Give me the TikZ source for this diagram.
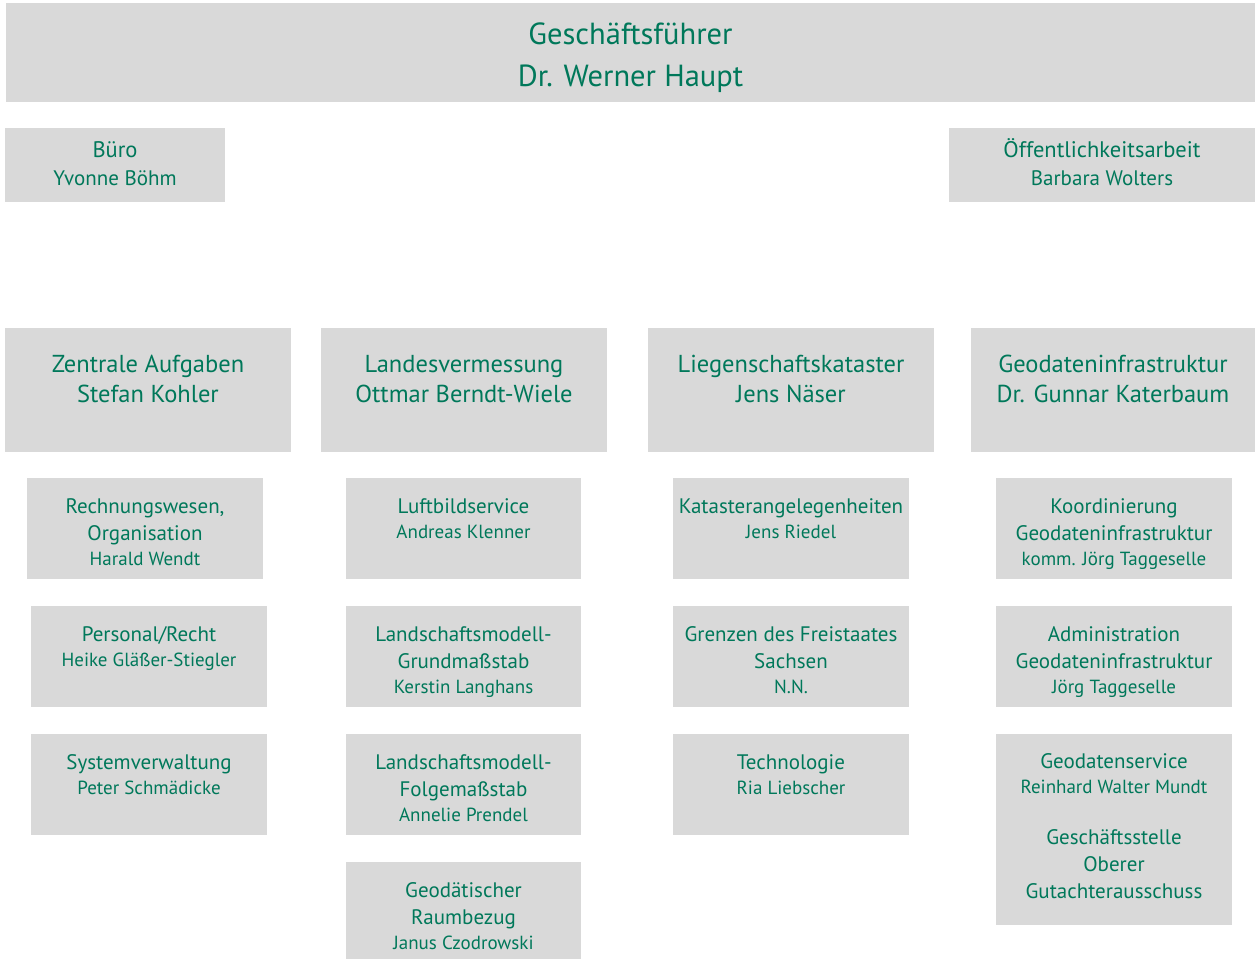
\documentclass[tikz,border=0pt]{standalone}
\usepackage{fontspec}
\setmainfont{PT Sans}
\usetikzlibrary{positioning}
\definecolor{boxgray}{HTML}{D9D9D9}
\definecolor{sbgreen}{HTML}{00785A}
\newcommand\topfont{\fontsize{30.5}{42}\selectfont}
\newcommand\headfont{\fontsize{24.5}{30}\selectfont}
\newcommand\stafffont{\fontsize{22.5}{28}\selectfont}
\newcommand\staffname{\fontsize{21}{28}\selectfont}
\newcommand\subfont{\fontsize{21}{27}\selectfont}
\newcommand\namefont{\fontsize{19}{25}\selectfont}
\tikzset{%
  unit/.style={fill=boxgray,anchor=north west,inner sep=0pt,outer sep=0pt},
  unittext/.style={text=sbgreen,align=center,inner sep=0pt,anchor=north},
  subbox/.style={unit,minimum width=236,minimum height=101},
  headbox/.style={unit,minimum width=286,minimum height=124},
}
\begin{document}
\begin{tikzpicture}[x=1pt,y=-1pt]
  \useasboundingbox (0,0) rectangle (1255,959);

  % Geschaeftsfuehrung
  \node[unit,minimum width=1249,minimum height=99] (gf) at (6,3) {};
  \node[unittext,font=\topfont,below=20pt of gf.north] (gftext) {Geschäftsführer\\Dr. Werner Haupt};

  % Stabsstellen
  \node[unit,minimum width=220,minimum height=74] (buero) at (5,128) {};
  \node[unittext,font=\stafffont,below=13pt of buero.north] (buerotext) {Büro\\{\staffname Yvonne Böhm}};
  \node[unit,minimum width=306,minimum height=74] (oeff) at (949,128) {};
  \node[unittext,font=\stafffont,below=10pt of oeff.north] (oefftext) {Öffentlichkeitsarbeit\\{\staffname Barbara Wolters}};

  % Abteilungen
  \node[headbox] (za) at (5,328) {};
  \node[headbox] (lv) at (321,328) {};
  \node[headbox] (lk) at (648,328) {};
  \node[headbox,minimum width=284] (gdi) at (971,328) {};
  \node[unittext,font=\headfont,below=27pt of za.north] (zatext) {Zentrale Aufgaben\\Stefan Kohler};
  \node[unittext,font=\headfont,below=27pt of lv.north] (lvtext) {Landesvermessung\\Ottmar Berndt-Wiele};
  \node[unittext,font=\headfont,below=27pt of lk.north] (lktext) {Liegenschaftskataster\\Jens Näser};
  \node[unittext,font=\headfont,below=27pt of gdi.north] (gditext) {Geodateninfrastruktur\\Dr. Gunnar Katerbaum};

  % Referate Zentrale Aufgaben
  \node[subbox] (rw) at (27,478) {};
  \node[subbox] (pr) at (31,606) {};
  \node[subbox] (sv) at (31,734) {};
  \node[unittext,font=\subfont,below=20pt of rw.north] (rwtext) {Rechnungswesen,\\Organisation\\[-2pt]{\namefont Harald Wendt}};
  \node[unittext,font=\subfont,below=20pt of pr.north] (prtext) {Personal/Recht\\[-2pt]{\namefont Heike Gläßer-Stiegler}};
  \node[unittext,font=\subfont,below=20pt of sv.north] (svtext) {Systemverwaltung\\[-2pt]{\namefont Peter Schmädicke}};

  % Referate Landesvermessung
  \node[subbox,minimum width=235] (lb) at (346,478) {};
  \node[subbox,minimum width=235] (lmg) at (346,606) {};
  \node[subbox,minimum width=235] (lmf) at (346,734) {};
  \node[subbox,minimum width=235,minimum height=97] (gr) at (346,862) {};
  \node[unittext,font=\subfont,below=20pt of lb.north] (lbtext) {Luftbildservice\\[-2pt]{\namefont Andreas Klenner}};
  \node[unittext,font=\subfont,below=20pt of lmg.north] (lmgtext) {Landschaftsmodell-\\Grundmaßstab\\[-2pt]{\namefont Kerstin Langhans}};
  \node[unittext,font=\subfont,below=20pt of lmf.north] (lmftext) {Landschaftsmodell-\\Folgemaßstab\\[-2pt]{\namefont Annelie Prendel}};
  \node[unittext,font=\subfont,below=20pt of gr.north] (grtext) {Geodätischer\\Raumbezug\\[-2pt]{\namefont Janus Czodrowski}};

  % Referate Liegenschaftskataster
  \node[subbox] (ka) at (673,478) {};
  \node[subbox] (gfs) at (673,606) {};
  \node[subbox] (tec) at (673,734) {};
  \node[unittext,font=\subfont,below=20pt of ka.north] (katext) {Katasterangelegenheiten\\[-2pt]{\namefont Jens Riedel}};
  \node[unittext,font=\subfont,below=20pt of gfs.north] (gfstext) {Grenzen des Freistaates\\Sachsen\\[-2pt]{\namefont N.N.}};
  \node[unittext,font=\subfont,below=20pt of tec.north] (tectext) {Technologie\\[-2pt]{\namefont Ria Liebscher}};

  % Referate Geodateninfrastruktur
  \node[subbox] (kg) at (996,478) {};
  \node[subbox] (ag) at (996,606) {};
  \node[subbox,minimum height=191] (gs) at (996,734) {};
  \node[unittext,font=\subfont,below=20pt of kg.north] (kgtext) {Koordinierung\\Geodateninfrastruktur\\[-2pt]{\namefont komm. Jörg Taggeselle}};
  \node[unittext,font=\subfont,below=20pt of ag.north] (agtext) {Administration\\Geodateninfrastruktur\\[-2pt]{\namefont Jörg Taggeselle}};
  \node[unittext,font=\subfont,below=19pt of gs.north] (gstext) {Geodatenservice\\[-2pt]{\namefont Reinhard Walter Mundt}\\[24pt]Geschäftsstelle\\Oberer\\Gutachterausschuss};
\end{tikzpicture}
\end{document}
